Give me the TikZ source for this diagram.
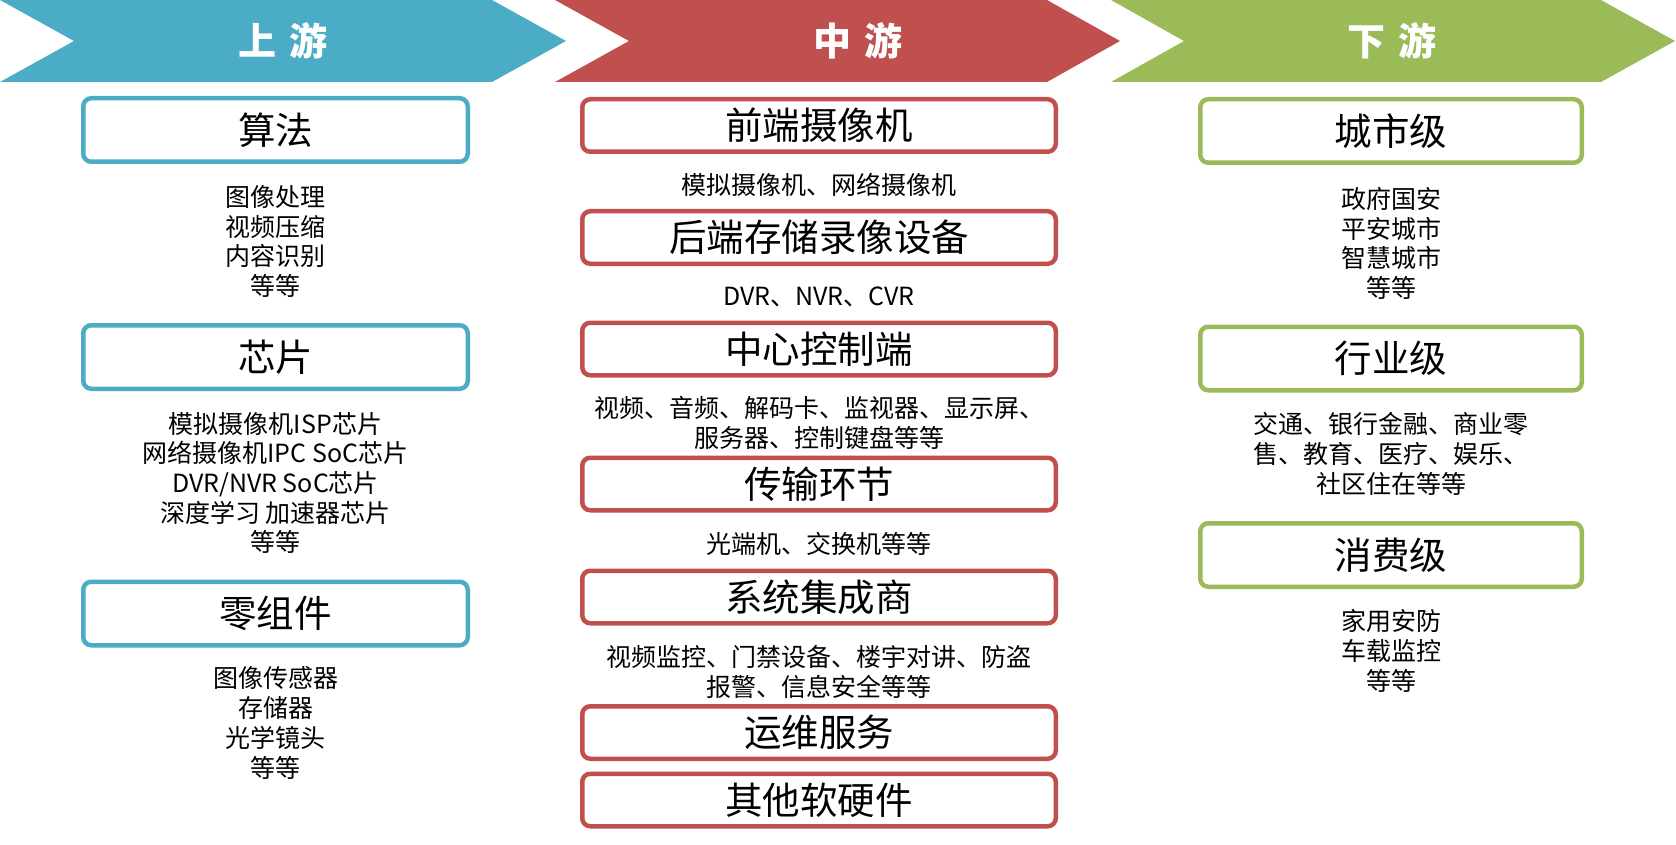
\documentclass[tikz,border=0pt]{standalone}
\usepackage{fontspec}
\setmainfont{Noto Sans CJK SC}
\newfontfamily\cjk{Noto Sans CJK SC}
\definecolor{cblue}{HTML}{4BACC6}
\definecolor{cred}{HTML}{C0504D}
\definecolor{cgreen}{HTML}{9BBB59}
\begin{document}
\begin{tikzpicture}[x=1pt,y=-1pt,
  hdr/.style={font=\cjk\bfseries\fontsize{38}{40}\selectfont, text=white, inner sep=0pt},
  titlebox/.style={draw, line width=4.5pt, rounded corners=8pt, fill=white, inner sep=0pt,
    font=\cjk\fontsize{37.5}{40}\selectfont},
  bluebox/.style={titlebox, draw=cblue, minimum width=384.5pt, minimum height=63.5pt},
  redbox/.style={titlebox, draw=cred, minimum width=473.5pt, minimum height=52.5pt},
  greenbox/.style={titlebox, draw=cgreen, minimum width=381.5pt, minimum height=63.5pt},
  desc/.style={font=\cjk\fontsize{25}{29.7}\selectfont, align=center, inner sep=0pt}]
\useasboundingbox (0,0) rectangle (1676,845);
% chevrons
\fill[cblue] (0,0) -- (492,0) -- (566,41) -- (492,82) -- (0,82) -- (74,41) -- cycle;
\fill[cred] (555,0) -- (1047,0) -- (1120,41) -- (1047,82) -- (555,82) -- (629,41) -- cycle;
\fill[cgreen] (1111,0) -- (1601,0) -- (1675,41) -- (1601,82) -- (1111,82) -- (1184,41) -- cycle;
\node[hdr] (h1) at (283,41) {上\hspace{13pt}游};
\node[hdr] (h2) at (858,41) {中\hspace{13pt}游};
\node[hdr] (h3) at (1392,41) {下\hspace{13pt}游};
% upstream
\node[bluebox] (u1) at (275.5,130) {算法};
\node[desc] (u1t) at (275.5,241.5) {图像处理\\视频压缩\\内容识别\\等等};
\node[bluebox] (u2) at (275.5,357) {芯片};
\node[desc] (u2t) at (275.5,483) {模拟摄像机ISP芯片\\网络摄像机IPC SoC芯片\\DVR/NVR SoC芯片\\深度学习 加速器芯片\\等等};
\node[bluebox] (u3) at (275.5,613.5) {零组件};
\node[desc] (u3t) at (275.5,723) {图像传感器\\存储器\\光学镜头\\等等};
% midstream
\node[redbox] (m1) at (819,125.5) {前端摄像机};
\node[desc] (m1t) at (819,185) {模拟摄像机、网络摄像机};
\node[redbox] (m2) at (819,237.5) {后端存储录像设备};
\node[desc] (m2t) at (819,297) {DVR、NVR、CVR};
\node[redbox] (m3) at (819,349) {中心控制端};
\node[desc] (m3t) at (819,423) {视频、音频、解码卡、监视器、显示屏、\\服务器、控制键盘等等};
\node[redbox] (m4) at (819,484) {传输环节};
\node[desc] (m4t) at (819,544) {光端机、交换机等等};
\node[redbox] (m5) at (819,597) {系统集成商};
\node[desc] (m5t) at (819,672) {视频监控、门禁设备、楼宇对讲、防盗\\报警、信息安全等等};
\node[redbox] (m6) at (819,732.5) {运维服务};
\node[redbox] (m7) at (819,800) {其他软硬件};
% downstream
\node[greenbox] (d1) at (1391,131) {城市级};
\node[desc] (d1t) at (1391,243.5) {政府国安\\平安城市\\智慧城市\\等等};
\node[greenbox] (d2) at (1391,358.5) {行业级};
\node[desc] (d2t) at (1391,454) {交通、银行金融、商业零\\售、教育、医疗、娱乐、\\社区住在等等};
\node[greenbox] (d3) at (1391,555) {消费级};
\node[desc] (d3t) at (1391,651) {家用安防\\车载监控\\等等};
\end{tikzpicture}
\end{document}
